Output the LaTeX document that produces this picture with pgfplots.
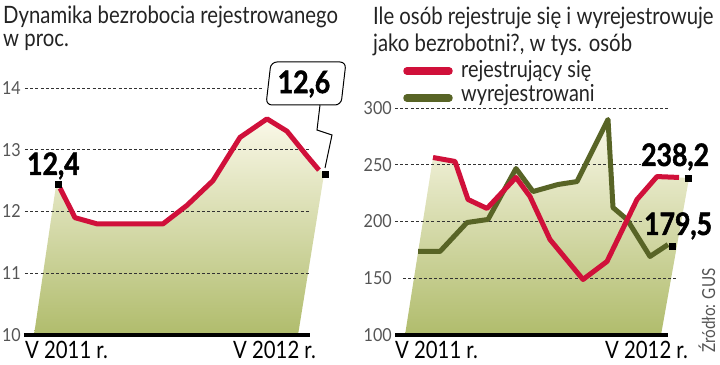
\documentclass[border=0pt]{standalone}
\usepackage{fontspec}
\setmainfont{Lato}
\newfontfamily\condf[FakeStretch=0.85]{Lato}
\newfontfamily\labf[FakeStretch=0.90]{Lato}
\newfontfamily\numf[FakeStretch=0.86, BoldFeatures={FakeBold=1.6}]{Lato}
\usepackage{pgfplots}
\usepackage{pgfplotstable}
\pgfplotsset{compat=1.18}

\definecolor{myred}{RGB}{208,16,58}
\definecolor{mygreen}{RGB}{88,100,38}
\definecolor{filltop}{RGB}{250,248,232}
\definecolor{fillbot}{RGB}{176,188,108}
\definecolor{gridc}{RGB}{50,50,50}
\definecolor{tickc}{RGB}{85,85,85}
\definecolor{titlec}{RGB}{35,35,35}

% left chart: unemployment rate (x = horizontal position, y = per cent)
\pgfplotstableread{
x y
60 12.38
75 11.9
97 11.8
119 11.8
141 11.8
163 11.8
187 12.1
213 12.5
240 13.2
267 13.5
287 13.3
307 12.9
319 12.67
}\tabL
\pgfplotstableread{
x y
56 12.42
75 11.9
97 11.8
163 11.8
187 12.1
213 12.5
240 13.2
267 13.5
287 13.3
307 12.9
324 12.6
298 10
34 10
}\tabLfill

% right chart (thousands of persons)
\pgfplotstableread{
x y
433 256.4
455 252.9
468 219.4
487 211.5
516 238.8
530 222.0
550 184.1
583 148.9
607 164.8
637 219.4
657 239.6
679 238.8
}\tabRed
\pgfplotstableread{
x y
418 173.6
440 173.6
467 199.1
488 201.8
516 246.7
533 226.4
558 232.6
577 235.2
608 289.9
613 212.3
627 201.8
650 169.2
668 179.7
}\tabGreen
\pgfplotstableread{
x y
433 256.4
455 252.9
468 219.4
487 211.5
504.5 228
516 246.7
533 226.4
558 232.6
577 235.2
608 289.9
613 212.3
627 201.8
637 219.4
657 239.6
679 238.8
689 238.2
661 100
405 100
}\tabRfill

\begin{document}
\begin{tikzpicture}
\useasboundingbox (0,0) rectangle (720bp,365bp);

% ---------------- left axis ----------------
\begin{axis}[at={(25bp,30bp)}, anchor=south west,
  width=285bp, height=247bp, scale only axis,
  xmin=25, xmax=310, ymin=10, ymax=14,
  hide axis, clip=false]
  \addplot[draw=none, top color=filltop, bottom color=fillbot] table {\tabLfill};
  \draw[gridc, line width=0.8bp, dash pattern=on 3bp off 2.2bp] (25,14) -- (263,14);
  \draw[gridc, line width=0.8bp, dash pattern=on 3bp off 2.2bp] (25,13) -- (310,13);
  \draw[gridc, line width=0.8bp, dash pattern=on 3bp off 2.2bp] (25,12) -- (310,12);
  \draw[gridc, line width=0.8bp, dash pattern=on 3bp off 2.2bp] (25,11) -- (310,11);
  \draw[black, line width=3bp] (24,10) -- (310,10);
  \addplot[myred, line width=5bp, line join=round] table {\tabL};
  \addplot[only marks, mark=square*, mark size=3bp, black] coordinates {(58,12.45) (325,12.6)};
  \node[anchor=east, inner sep=0, text=tickc, font=\labf\fontsize{18}{18}\selectfont] at (21,10) {10};
  \node[anchor=east, inner sep=0, text=tickc, font=\labf\fontsize{18}{18}\selectfont] at (21,11) {11};
  \node[anchor=east, inner sep=0, text=tickc, font=\labf\fontsize{18}{18}\selectfont] at (21,12) {12};
  \node[anchor=east, inner sep=0, text=tickc, font=\labf\fontsize{18}{18}\selectfont] at (21,13) {13};
  \node[anchor=east, inner sep=0, text=tickc, font=\labf\fontsize{18}{18}\selectfont] at (21,14) {14};
\end{axis}

% ---------------- right axis ----------------
\begin{axis}[at={(395bp,30bp)}, anchor=south west,
  width=273bp, height=227bp, scale only axis,
  xmin=395, xmax=668, ymin=100, ymax=300,
  hide axis, clip=false]
  \addplot[draw=none, top color=filltop, bottom color=fillbot] table {\tabRfill};
  \draw[gridc, line width=0.8bp, dash pattern=on 3bp off 2.2bp] (395,300) -- (668,300);
  \draw[gridc, line width=0.8bp, dash pattern=on 3bp off 2.2bp] (395,250) -- (641,250);
  \draw[gridc, line width=0.8bp, dash pattern=on 3bp off 2.2bp] (395,200) -- (643,200);
  \draw[gridc, line width=0.8bp, dash pattern=on 3bp off 2.2bp] (403,150) -- (677,150);
  \draw[black, line width=3bp] (395,100) -- (668,100);
  \addplot[mygreen, line width=5bp, line join=round] table {\tabGreen};
  \addplot[myred, line width=5bp, line join=round] table {\tabRed};
  \addplot[only marks, mark=square*, mark size=3bp, black] coordinates {(688,238.2) (672,178.5)};
  \node[anchor=east, inner sep=0, text=tickc, font=\labf\fontsize{18}{18}\selectfont] at (392,100) {100};
  \node[anchor=east, inner sep=0, text=tickc, font=\labf\fontsize{18}{18}\selectfont] at (392,150) {150};
  \node[anchor=east, inner sep=0, text=tickc, font=\labf\fontsize{18}{18}\selectfont] at (392,200) {200};
  \node[anchor=east, inner sep=0, text=tickc, font=\labf\fontsize{18}{18}\selectfont] at (392,250) {250};
  \node[anchor=east, inner sep=0, text=tickc, font=\labf\fontsize{18}{18}\selectfont] at (392,300) {300};
\end{axis}

% ---------------- texts (picture pixel coordinates) ----------------
\begin{scope}[x=1bp, y=-1bp, yshift=365bp]
  \node[anchor=base west, inner sep=0, text=titlec, font=\condf\fontsize{24}{24}\selectfont] at (3,24) {Dynamika bezrobocia rejestrowanego};
  \node[anchor=base west, inner sep=0, text=titlec, font=\condf\fontsize{24}{24}\selectfont] at (3,47) {w proc.};
  \node[anchor=base west, inner sep=0, text=titlec, font=\condf\fontsize{24}{24}\selectfont] at (373,25) {Ile osób rejestruje się i wyrejestrowuje};
  \node[anchor=base west, inner sep=0, text=titlec, font=\condf\fontsize{24}{24}\selectfont] at (373,52) {jako bezrobotni?, w tys. osób};
  % legend
  \draw[myred, line width=7.5bp, line cap=round] (407,71) -- (449,71);
  \draw[mygreen, line width=7.5bp, line cap=round] (407,98) -- (449,98);
  \node[anchor=base west, inner sep=0, text=titlec, font=\condf\fontsize{23.5}{23.5}\selectfont] at (461,78) {rejestrujący się};
  \node[anchor=base west, inner sep=0, text=titlec, font=\condf\fontsize{23.5}{23.5}\selectfont] at (461,102) {wyrejestrowani};
  % x labels
  \node[anchor=base west, inner sep=0, font=\condf\fontsize{24}{24}\selectfont] at (25,359) {V 2011 r.};
  \node[anchor=base west, inner sep=0, font=\condf\fontsize{24}{24}\selectfont] at (233,359) {V 2012 r.};
  \node[anchor=base west, inner sep=0, font=\condf\fontsize{24}{24}\selectfont] at (395,359) {V 2011 r.};
  \node[anchor=base west, inner sep=0, font=\condf\fontsize{24}{24}\selectfont] at (605,359) {V 2012 r.};
  % callout
  \draw[black, line width=1bp, fill=white, rounded corners=6bp] (271,62) -- (346,62) -- (341,105) -- (266,105) -- cycle;
  \draw[black, line width=1bp] (320,105) -- (317,130) -- (332,135) -- (325,168);
  \node[inner sep=0, font=\numf\bfseries\fontsize{31}{31}\selectfont] at (304,84) {12,6};
  \node[anchor=base west, inner sep=0, font=\numf\bfseries\fontsize{31}{31}\selectfont] at (27,175) {12,4};
  \node[anchor=base west, inner sep=0, font=\numf\bfseries\fontsize{31}{31}\selectfont] at (641,166) {238,2};
  \node[anchor=base west, inner sep=0, font=\numf\bfseries\fontsize{31}{31}\selectfont] at (644,235) {179,5};
  % source
  \node[rotate=90, anchor=base west, inner sep=0, text=tickc, font=\condf\fontsize{18}{18}\selectfont] at (715,353) {Źródło: GUS};
\end{scope}
\end{tikzpicture}
\end{document}
